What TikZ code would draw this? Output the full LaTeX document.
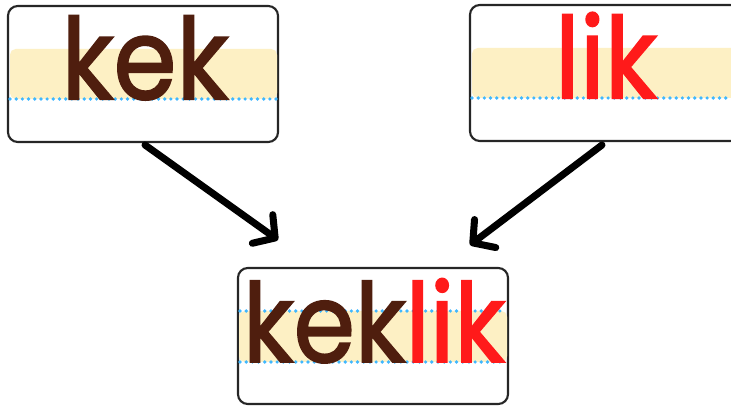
\documentclass[tikz,border=0pt]{standalone}
\usepackage{fontspec}
\newfontfamily\wordfont{Poppins}[FakeBold=1.8]
\usepackage{xcolor}
\usetikzlibrary{arrows.meta}
\definecolor{kekbrown}{HTML}{4F1E0E}
\definecolor{likred}{HTML}{FF1A1A}
\definecolor{bandyellow}{HTML}{FDF0C4}
\definecolor{lineblue}{HTML}{3FB8FF}
\begin{document}
\begin{tikzpicture}[x=0.025cm, y=-0.025cm,
    wordbox/.style={draw=black!85, line width=1.5pt, rounded corners=7pt, fill=white,
      minimum width=6.75cm, minimum height=3.4cm, inner sep=0pt},
    band/.style={fill=bandyellow, rounded corners=4pt},
    guide/.style={lineblue, line width=2.6pt, line cap=round, dash pattern=on 0pt off 4.4pt},
    word/.style={anchor=base, inner sep=0pt, xscale=0.9, transform shape,
      font=\wordfont\fontsize{80}{84}\selectfont},
    mergearrow/.style={line width=5pt, line cap=round,
      -{Straight Barb[length=11pt, width=25pt, round]}}]
  \useasboundingbox (0,0) rectangle (731,406);
  \clip (0,0) rectangle (731,406);
  % boxes
  \node[wordbox] (kekbox) at (143,74) {};
  \node[wordbox] (likbox) at (605,73) {};
  \node[wordbox] (keklikbox) at (373,336) {};
  % highlight bands and guide lines
  \fill[band] (10,49) rectangle (277,99);
  \fill[band] (472,48) rectangle (760,98);
  \fill[band] (239,311) rectangle (507,362);
  \draw[guide] (10,99) -- (277,99);
  \draw[guide] (472,98) -- (731,98);
  \draw[guide] (240,311) -- (506,311);
  \draw[guide] (240,362) -- (506,362);
  % words
  \node[word, text=kekbrown] (kek) at (145,99) {kek};
  \node[word, text=likred] (lik) at (606,98) {lik};
  \node[word, font=\wordfont\fontsize{78}{82}\selectfont] (keklik) at (374,362)
    {\textcolor{kekbrown}{kek}\textcolor{likred}{lik}};
  % arrows
  \coordinate (kekout) at (145,145);
  \coordinate (likout) at (602,145);
  \coordinate (kekin) at (278,240);
  \coordinate (likin) at (470,245);
  \draw[mergearrow] (kekout) -- (kekin);
  \draw[mergearrow] (likout) -- (likin);
\end{tikzpicture}
\end{document}
